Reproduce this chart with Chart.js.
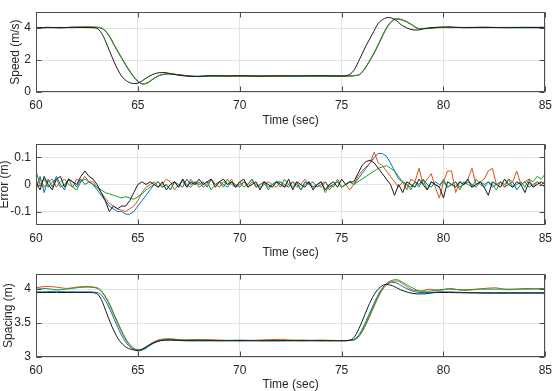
<!DOCTYPE html>
<html>
<head>
<meta charset="utf-8">
<script src="https://cdn.jsdelivr.net/npm/chart.js@4"></script>
<style>
  body { margin: 0; background: #fff; }
  .plot { position: absolute; left: 0; width: 558px; }
</style>
</head>
<body>
<div class="plot" style="top:0;height:131px"><canvas id="speedChart"></canvas></div>
<div class="plot" style="top:131px;height:131px"><canvas id="errorChart"></canvas></div>
<div class="plot" style="top:262px;height:130px"><canvas id="spacingChart"></canvas></div>
<script>
// ---- data ----
var xTicks = [60, 65, 70, 75, 80, 85];
var speedTicks = [0, 2, 4];
var errorTicks = [-0.1, 0, 0.1];
var spacingTicks = [3, 3.5, 4];

// speed (m/s): lead vehicle (black) and the three followers
var speedTimeLead = [60, 60.6, 61.2, 61.8, 62.4, 62.9, 63.1, 63.3, 63.6, 63.9, 64.2, 64.5, 64.8, 65.0, 65.3,
  65.6, 66.0, 66.3, 66.7, 67.2, 67.8, 68.5, 69.3, 70.2, 71.0, 72, 73, 74, 75, 75.3,
  75.6, 75.9, 76.2, 76.5, 76.8, 77.1, 77.3, 77.6, 78.0, 78.4, 78.7, 79.1, 79.6, 80.2, 81, 82, 83, 84, 85];
var speedBlack = [4.02, 4.05, 4.03, 4.06, 4.04, 4.02, 3.88, 3.5, 2.6, 1.7, 1.0, 0.65, 0.53, 0.55, 0.78,
  1.02, 1.2, 1.22, 1.12, 1.02, 0.97, 1.02, 1.0, 1.02, 0.99, 1.01, 1.0, 1.02, 1.0, 1.05,
  1.35, 2.1, 2.9, 3.6, 4.3, 4.6, 4.67, 4.55, 4.15, 3.92, 3.88, 3.98, 4.05, 4.08, 4.03, 4.05, 4.03, 4.05, 4.03];
var speedTimeFollow = [60, 60.6, 61.2, 61.8, 62.4, 63.0, 63.3, 63.6, 63.9, 64.2, 64.5, 64.8, 65.0, 65.25, 65.5,
  65.8, 66.1, 66.5, 66.9, 67.4, 68.0, 68.7, 69.5, 70.3, 71.2, 72, 73, 74, 75, 75.8,
  76.1, 76.4, 76.7, 77.0, 77.3, 77.7, 78.0, 78.4, 78.8, 79.2, 79.7, 80.3, 81, 82, 83, 84, 85];
var speedBlue = [4.02, 4.03, 4.05, 4.03, 4.06, 4.04, 3.93, 3.48, 2.78, 2.12, 1.48, 0.93, 0.66, 0.5, 0.6,
  0.87, 1.06, 1.13, 1.09, 1.01, 0.98, 1.01, 1.0, 1.01, 0.99, 1.01, 1.0, 1.01, 1.0, 1.04,
  1.38, 1.98, 2.68, 3.48, 4.18, 4.56, 4.5, 4.24, 3.98, 3.99, 4.04, 4.06, 4.04, 4.03, 4.05, 4.05, 4.06];
var speedOrange = [4.0, 4.05, 4.02, 4.06, 4.08, 4.06, 3.96, 3.52, 2.82, 2.16, 1.52, 0.97, 0.7, 0.52, 0.59,
  0.86, 1.06, 1.15, 1.1, 1.03, 0.96, 1.02, 1.01, 0.98, 1.02, 0.99, 1.03, 1.0, 0.99, 1.06,
  1.42, 2.02, 2.72, 3.52, 4.22, 4.6, 4.53, 4.26, 3.96, 3.97, 4.04, 4.03, 4.05, 4.06, 4.03, 4.04, 4.03];
var speedGreen = [4.0, 4.04, 4.02, 4.05, 4.07, 4.05, 3.95, 3.5, 2.8, 2.15, 1.5, 0.95, 0.68, 0.5, 0.58,
  0.85, 1.05, 1.14, 1.1, 1.02, 0.97, 1.0, 1.02, 0.99, 1.01, 1.0, 1.02, 0.99, 1.0, 1.05,
  1.4, 2.0, 2.7, 3.5, 4.2, 4.58, 4.5, 4.25, 3.97, 3.98, 4.03, 4.05, 4.03, 4.05, 4.04, 4.02, 4.04];

// error (m), sampled every 0.2 s from 60 to 85 s
var errorStart = 60, errorStep = 0.2;
var errBlack = [
  0.01, -0.02, 0.03, 0.00, -0.02, 0.02, 0.03, -0.01, 0.02, 0.01,
  0.00, 0.03, 0.05, 0.03, 0.02, 0.00, -0.03, -0.06, -0.10, -0.08,
  -0.09, -0.08, -0.08, -0.06, -0.03, 0.00, 0.01, 0.00, 0.01, 0.00,
  -0.01, 0.01, -0.02, 0.00, 0.01, -0.01, 0.02, -0.01, 0.01, 0.00,
  0.02, 0.00, 0.01, 0.02, -0.01, 0.01, 0.02, 0.00, 0.01, -0.01,
  0.01, 0.02, -0.01, 0.00, 0.01, -0.02, 0.01, 0.00, -0.01, 0.01,
  0.00, -0.01, 0.02, -0.02, 0.01, 0.00, -0.01, 0.01, -0.02, 0.00,
  0.01, -0.02, 0.00, 0.01, -0.01, 0.02, 0.00, 0.01, 0.01, 0.04,
  0.07, 0.085, 0.09, 0.08, 0.06, 0.04, 0.02, 0.00, -0.04, 0.00,
  -0.03, 0.01, 0.00, -0.01, 0.02, 0.00, -0.02, 0.01, 0.00, -0.01,
  -0.05, 0.01, 0.00, -0.01, 0.01, 0.00, 0.02, -0.01, 0.00, 0.01,
  -0.01, -0.04, 0.01, 0.00, -0.01, 0.02, 0.00, -0.01, 0.01, 0.00,
  -0.03, 0.01, -0.01, 0.00, 0.01, 0.00];
var errBlue = [
  -0.02, 0.03, -0.03, 0.02, -0.01, 0.03, 0.00, -0.02, 0.02, 0.01,
  -0.01, 0.02, 0.00, 0.01, 0.00, -0.02, -0.04, -0.06, -0.08, -0.09,
  -0.10, -0.10, -0.11, -0.11, -0.10, -0.08, -0.06, -0.04, -0.02, 0.00,
  0.01, -0.01, 0.00, -0.02, 0.01, 0.00, -0.01, 0.02, 0.00, 0.01,
  0.00, 0.01, -0.01, 0.02, 0.00, 0.01, 0.00, -0.01, 0.01, 0.00,
  -0.01, 0.01, 0.00, 0.02, -0.01, 0.00, 0.01, -0.01, 0.00, 0.01,
  0.01, 0.00, -0.01, 0.01, 0.00, -0.02, 0.01, 0.00, 0.01, -0.01,
  0.00, 0.01, -0.01, 0.00, 0.01, -0.01, 0.00, 0.01, 0.00, 0.02,
  0.04, 0.06, 0.08, 0.10, 0.115, 0.115, 0.105, 0.08, 0.05, 0.02,
  0.01, 0.00, -0.01, 0.01, 0.00, 0.02, 0.00, -0.01, 0.01, 0.00,
  0.01, -0.01, 0.00, 0.01, -0.01, 0.00, 0.01, 0.00, -0.01, 0.01,
  0.00, 0.01, -0.01, 0.00, 0.01, -0.01, 0.00, 0.01, -0.02, 0.00,
  0.01, -0.01, 0.00, 0.01, 0.00, -0.01];
var errOrange = [
  0.00, 0.02, -0.01, 0.01, 0.02, -0.01, 0.01, 0.02, 0.00, -0.01,
  0.02, 0.01, 0.03, 0.01, 0.01, -0.01, -0.03, -0.05, -0.07, -0.08,
  -0.09, -0.095, -0.10, -0.09, -0.08, -0.06, -0.03, -0.01, 0.00, 0.01,
  -0.01, 0.00, 0.02, 0.01, -0.02, 0.00, 0.01, -0.01, 0.02, 0.00,
  0.01, -0.01, 0.00, 0.02, 0.00, -0.01, 0.01, 0.00, 0.02, -0.01,
  0.00, 0.01, -0.01, 0.01, 0.00, -0.01, 0.00, 0.01, 0.00, -0.01,
  0.01, -0.01, 0.00, 0.01, -0.01, 0.00, 0.02, 0.00, -0.01, 0.00,
  -0.01, 0.01, -0.02, 0.00, 0.01, -0.01, 0.00, -0.02, 0.00, 0.03,
  0.05, 0.065, 0.08, 0.12, 0.08, 0.07, 0.05, 0.03, 0.01, -0.01,
  0.01, -0.02, 0.02, 0.01, 0.06, 0.00, 0.02, 0.04, -0.01, -0.05,
  0.01, 0.05, 0.05, -0.03, 0.01, 0.00, 0.02, 0.06, 0.00, 0.01,
  0.02, 0.05, 0.06, 0.00, 0.01, -0.01, 0.02, 0.01, 0.05, 0.00,
  0.01, 0.02, -0.01, 0.01, 0.00, 0.01];
var errGreen = [
  0.05, 0.00, 0.02, -0.01, 0.01, 0.02, -0.01, 0.00, 0.02, -0.01,
  -0.02, 0.01, 0.02, 0.01, 0.00, -0.01, -0.02, -0.03, -0.035, -0.04,
  -0.045, -0.05, -0.045, -0.05, -0.055, -0.045, -0.035, -0.02, -0.01, 0.00,
  0.01, -0.01, 0.00, -0.02, 0.01, -0.01, 0.02, 0.00, -0.01, 0.01,
  -0.01, 0.00, 0.01, -0.02, 0.00, 0.01, -0.01, 0.02, 0.00, -0.01,
  0.01, -0.01, 0.00, 0.02, -0.01, 0.00, 0.01, -0.02, 0.00, 0.01,
  -0.01, 0.02, 0.00, -0.01, 0.01, -0.02, 0.00, 0.01, -0.01, 0.00,
  0.01, -0.03, 0.00, -0.01, 0.02, -0.01, 0.00, 0.01, 0.00, 0.01,
  0.02, 0.03, 0.04, 0.05, 0.06, 0.065, 0.07, 0.06, 0.05, 0.03,
  0.01, 0.00, -0.02, 0.01, -0.01, 0.02, -0.02, 0.01, 0.00, -0.01,
  0.02, -0.01, 0.00, 0.01, -0.02, 0.01, 0.00, -0.01, 0.02, 0.00,
  -0.01, 0.01, 0.00, -0.02, 0.01, 0.00, 0.02, -0.01, 0.00, 0.01,
  -0.01, 0.02, 0.01, 0.03, 0.02, 0.04];

// spacing (m)
var spacingTimeLead = [60, 61, 62, 62.6, 62.95, 63.2, 63.5, 63.8, 64.1, 64.4, 64.7, 65.0, 65.3, 65.7, 66.1,
  66.6, 67.5, 69, 71, 73, 75, 75.45, 75.7, 76.0, 76.3, 76.6, 76.9, 77.2, 77.5, 77.9,
  78.3, 78.7, 79.1, 79.6, 80.3, 82, 84, 85];
var spacingBlack = [3.95, 3.95, 3.95, 3.95, 3.94, 3.85, 3.62, 3.4, 3.24, 3.15, 3.11, 3.1, 3.13, 3.2, 3.24,
  3.25, 3.24, 3.24, 3.24, 3.24, 3.24, 3.25, 3.33, 3.52, 3.74, 3.92, 4.03, 4.07, 4.05, 3.99,
  3.95, 3.93, 3.93, 3.95, 3.95, 3.94, 3.94, 3.94];
var spacingTimeFollow = [60, 60.5, 61, 61.5, 62, 62.5, 63.0, 63.25, 63.55, 63.85, 64.15, 64.45, 64.75, 65.05, 65.35,
  65.7, 66.1, 66.6, 67.2, 68, 69, 70, 71, 72, 73, 74, 75, 75.6, 75.9, 76.2,
  76.5, 76.8, 77.1, 77.4, 77.7, 78.0, 78.4, 78.9, 79.3, 79.8, 80.3, 81, 81.7, 82.5, 83.2, 84, 85];
var spacingBlue = [3.96, 3.96, 3.97, 3.96, 3.96, 3.96, 3.95, 3.9, 3.75, 3.55, 3.35, 3.2, 3.12, 3.09, 3.12,
  3.19, 3.24, 3.25, 3.24, 3.24, 3.24, 3.24, 3.24, 3.24, 3.24, 3.24, 3.24, 3.26, 3.35, 3.53,
  3.73, 3.92, 4.05, 4.1, 4.09, 4.04, 3.98, 3.95, 3.95, 3.96, 3.96, 3.95, 3.95, 3.95, 3.95, 3.95, 3.95];
var spacingOrange = [4.02, 4.04, 4.03, 4.01, 4.03, 4.04, 4.01, 3.95, 3.8, 3.6, 3.4, 3.23, 3.13, 3.1, 3.14,
  3.21, 3.26, 3.27, 3.25, 3.26, 3.25, 3.24, 3.25, 3.26, 3.24, 3.25, 3.24, 3.25, 3.32, 3.48,
  3.68, 3.88, 4.03, 4.1, 4.12, 4.08, 4.0, 3.97, 4.0, 3.98, 4.01, 3.98, 4.0, 4.02, 3.99, 4.01, 4.0];
var spacingGreen = [4.0, 4.01, 3.99, 4.0, 4.02, 4.03, 4.02, 3.96, 3.82, 3.62, 3.42, 3.25, 3.14, 3.1, 3.13,
  3.2, 3.25, 3.26, 3.25, 3.25, 3.24, 3.25, 3.24, 3.24, 3.25, 3.24, 3.24, 3.25, 3.33, 3.5,
  3.7, 3.9, 4.05, 4.12, 4.14, 4.1, 4.03, 3.97, 3.97, 3.99, 4.0, 3.99, 4.0, 4.0, 4.0, 4.0, 4.01];

// ---- styling ----
var colBlack = '#1a1a1a';
var colBlue = '#0072bd';
var colOrange = '#d95319';
var colGreen = '#1f9a2e';
var textColor = '#262626';
var gridColor = '#e3e3e3';
var fontFamily = '"Liberation Sans", Arial, Helvetica, sans-serif';

function pts(times, values) {
  var out = [];
  for (var i = 0; i < values.length; i++) out.push({x: times[i], y: values[i]});
  return out;
}

function stepPts(start, step, values) {
  var out = [];
  for (var i = 0; i < values.length; i++) out.push({x: start + i * step, y: values[i]});
  return out;
}

function line(data, color, smooth) {
  return {
    data: data,
    borderColor: color,
    borderWidth: 1,
    pointRadius: 0,
    fill: false,
    tension: 0,
    cubicInterpolationMode: smooth ? 'monotone' : 'default'
  };
}

// matlab style box with inward ticks
var boxPlugin = {
  id: 'box',
  afterDatasetsDraw: function(chart) {
    var a = chart.chartArea, ctx = chart.ctx;
    var xs = chart.scales.x, ys = chart.scales.y;
    var l = Math.round(a.left) + 0.5, r = Math.round(a.right) - 0.5;
    var t = Math.round(a.top) + 0.5, b = Math.round(a.bottom) - 0.5;
    ctx.save();
    ctx.strokeStyle = '#4d4d4d';
    ctx.lineWidth = 1;
    ctx.strokeRect(l, t, r - l, b - t);
    ctx.beginPath();
    xs.ticks.forEach(function(tk) {
      var px = Math.round(xs.getPixelForValue(tk.value)) + 0.5;
      ctx.moveTo(px, b); ctx.lineTo(px, b - 5);
      ctx.moveTo(px, t); ctx.lineTo(px, t + 5);
    });
    ys.ticks.forEach(function(tk) {
      var py = Math.round(ys.getPixelForValue(tk.value)) + 0.5;
      ctx.moveTo(l, py); ctx.lineTo(l + 5, py);
      ctx.moveTo(r, py); ctx.lineTo(r - 5, py);
    });
    ctx.stroke();
    ctx.restore();
  }
};

function makeChart(id, datasets, opts) {
  var font = {family: fontFamily, size: 12};
  return new Chart(document.getElementById(id), {
    type: 'line',
    data: {datasets: datasets},
    options: {
      responsive: true,
      maintainAspectRatio: false,
      animation: false,
      layout: {padding: {top: opts.top, right: 10, bottom: 0, left: 0}},
      plugins: {legend: {display: false}, tooltip: {enabled: false}},
      scales: {
        x: {
          type: 'linear', min: 60, max: 85,
          afterBuildTicks: function(s) { s.ticks = xTicks.map(function(v) { return {value: v}; }); },
          afterFit: function(s) { s.height = opts.xAxisH; },
          grid: {color: gridColor, drawTicks: false},
          border: {display: false},
          ticks: {color: textColor, font: font, padding: 6, maxRotation: 0},
          title: {display: true, text: 'Time (sec)', color: textColor, font: font, padding: {top: 0, bottom: opts.titlePad}}
        },
        y: {
          type: 'linear', min: opts.yMin, max: opts.yMax,
          afterBuildTicks: function(s) { s.ticks = opts.yTicks.map(function(v) { return {value: v}; }); },
          afterFit: function(s) { s.width = 36; },
          grid: {color: gridColor, drawTicks: false},
          border: {display: false},
          ticks: {color: textColor, font: font, padding: 5, callback: function(v) { return String(v); }},
          title: {display: true, text: opts.yTitle, color: textColor,
            font: {family: fontFamily, size: 12, lineHeight: opts.yTitleLH}, padding: {top: opts.yTitlePad, bottom: 0}}
        }
      }
    },
    plugins: [boxPlugin]
  });
}

// first dataset is drawn on top, so black comes first, blue last
makeChart('speedChart', [
  line(pts(speedTimeLead, speedBlack), colBlack, true),
  line(pts(speedTimeFollow, speedGreen), colGreen, true),
  line(pts(speedTimeFollow, speedOrange), colOrange, true),
  line(pts(speedTimeFollow, speedBlue), colBlue, true)
], {top: 9.5, xAxisH: 39, titlePad: 3, yMin: 0, yMax: 5, yTicks: speedTicks,
    yTitle: 'Speed (m/s)', yTitleLH: 1.2, yTitlePad: 8});

makeChart('errorChart', [
  line(stepPts(errorStart, errorStep, errBlack), colBlack, false),
  line(stepPts(errorStart, errorStep, errGreen), colGreen, false),
  line(stepPts(errorStart, errorStep, errOrange), colOrange, false),
  line(stepPts(errorStart, errorStep, errBlue), colBlue, false)
], {top: 13, xAxisH: 37, titlePad: 2, yMin: -0.15, yMax: 0.15, yTicks: errorTicks,
    yTitle: 'Error (m)', yTitleLH: 0.7, yTitlePad: 0});

makeChart('spacingChart', [
  line(pts(spacingTimeLead, spacingBlack), colBlack, true),
  line(pts(spacingTimeFollow, spacingGreen), colGreen, true),
  line(pts(spacingTimeFollow, spacingOrange), colOrange, true),
  line(pts(spacingTimeFollow, spacingBlue), colBlue, true)
], {top: 12, xAxisH: 35, titlePad: 0, yMin: 3, yMax: 4.22, yTicks: spacingTicks,
    yTitle: 'Spacing (m)', yTitleLH: 1.2, yTitlePad: 1});
</script>
</body>
</html>
